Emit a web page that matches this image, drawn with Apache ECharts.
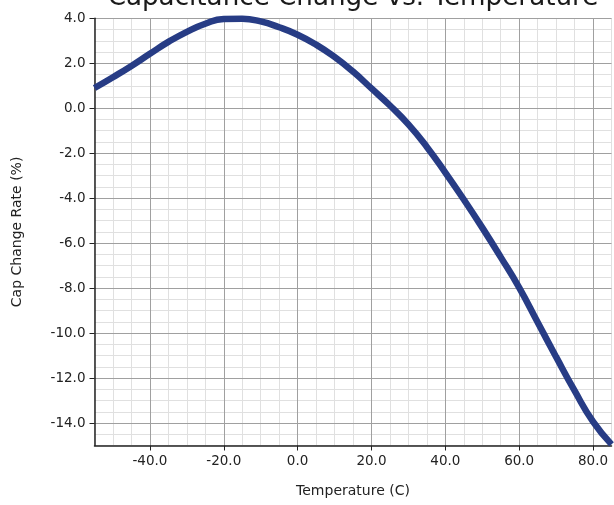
<!DOCTYPE html>
<html>
<head>
<meta charset="utf-8">
<script src="https://cdn.jsdelivr.net/npm/echarts@6/dist/echarts.min.js"></script>
<style>
html,body{margin:0;padding:0;background:#fff;}
#chart{width:614px;height:505px;}
</style>
</head>
<body>
<div id="chart"></div>
<script>
const titleText = 'Capacitance Change vs. Temperature';
const xName = 'Temperature (C)';
const yName = 'Cap Change Rate (%)';
const temperatures = [-55,-50,-45,-40,-35,-30,-25,-20,-15,-10,-5,0,5,10,15,20,25,30,35,40,45,50,55,60,65,70,75,80,85];
const capChange = [0.9,1.38,1.88,2.42,2.95,3.4,3.76,3.97,3.98,3.86,3.6,3.27,2.83,2.28,1.63,0.88,0.12,-0.72,-1.72,-2.86,-4.06,-5.31,-6.62,-7.98,-9.52,-11.06,-12.56,-13.94,-14.95];
const xTickValues = [-40,-20,0,20,40,60,80];
const yTickValues = [-14,-12,-10,-8,-6,-4,-2,0,2,4];

const chart = echarts.init(document.getElementById('chart'));
const minor = '#e0e0e0', major = '#a0a0a0';
const font = 'DejaVu Sans';
const labelStyle = {fontFamily: font, fontSize: 13.5, color: '#222', formatter: v => v.toFixed(1)};
chart.setOption({
  animation: false,
  title: {
    text: titleText, left: 348, top: -20, textAlign: 'center',
    textStyle: {fontFamily: font, fontSize: 26.2, fontWeight: 'normal', color: '#1a1a1a'}
  },
  grid: {left: 94.5, right: 2.5, top: 18.3, bottom: 59.5},
  xAxis: [{
    type: 'value', min: -55, max: 85, z: 1,
    name: xName, nameLocation: 'middle', nameGap: 39,
    nameTextStyle: {fontFamily: font, fontSize: 14, color: '#222'},
    axisLine: {show: true, onZero: false, lineStyle: {color: '#222', width: 1.5}},
    axisTick: {show: true, customValues: xTickValues, length: 5, lineStyle: {color: '#222'}},
    axisLabel: Object.assign({customValues: xTickValues, margin: 9}, labelStyle),
    splitLine: {show: true, lineStyle: {color: major, width: 1}}
  }, {
    type: 'value', min: -55, max: 85, interval: 5, z: 0, position: 'top',
    axisLine: {show: false}, axisTick: {show: false}, axisLabel: {show: false},
    splitLine: {show: true, lineStyle: {color: minor, width: 1}}
  }],
  yAxis: [{
    type: 'value', min: -15, max: 4, z: 1,
    name: yName, nameLocation: 'middle', nameGap: 70,
    nameTextStyle: {fontFamily: font, fontSize: 14, color: '#222'},
    axisLine: {show: true, onZero: false, lineStyle: {color: '#222', width: 1.5}},
    axisTick: {show: true, customValues: yTickValues, length: 5, lineStyle: {color: '#222'}},
    axisLabel: Object.assign({customValues: yTickValues, margin: 9}, labelStyle),
    splitLine: {show: true, lineStyle: {color: major, width: 1}}
  }, {
    type: 'value', min: -15, max: 4, interval: 0.5, z: 0, position: 'right',
    axisLine: {show: false}, axisTick: {show: false}, axisLabel: {show: false},
    splitLine: {show: true, lineStyle: {color: minor, width: 1}}
  }],
  series: [{
    type: 'line',
    xAxisIndex: 0, yAxisIndex: 0,
    data: temperatures.map((t, i) => [t, capChange[i]]),
    smooth: 0.5,
    symbol: 'none',
    clip: false,
    z: 3,
    lineStyle: {color: '#273c85', width: 6.5}
  }]
});
</script>
</body>
</html>
